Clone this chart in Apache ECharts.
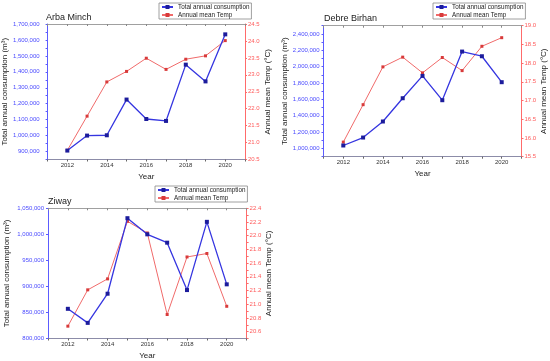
<!DOCTYPE html>
<html><head><meta charset="utf-8">
<script src="https://cdn.jsdelivr.net/npm/echarts@6/dist/echarts.min.js"></script>
<style>html,body{margin:0;padding:0;background:#fff}#c{width:550px;height:361px}</style>
</head><body><div id="c"></div>
<script>
const years = [2012, 2013, 2014, 2015, 2016, 2017, 2018, 2019, 2020];
const titles = ['Arba Minch', 'Debre Birhan', 'Ziway'];
const arbaConsumption = [906000, 1000000, 1002000, 1226000, 1104000, 1092000, 1445000, 1340000, 1635000];
const arbaTemp = [20.77, 21.78, 22.79, 23.10, 23.49, 23.16, 23.46, 23.56, 24.01];
const debreConsumption = [1037000, 1134000, 1330000, 1614000, 1887000, 1590000, 2184000, 2127000, 1810000];
const debreTemp = [15.89, 16.89, 17.90, 18.16, 17.74, 18.15, 17.80, 18.45, 18.68];
const ziwayConsumption = [857000, 830000, 886000, 1031000, 1000000, 984000, 893000, 1024000, 904000];
const ziwayTemp = [20.68, 21.21, 21.37, 22.21, 22.04, 20.85, 21.69, 21.74, 20.97];
const seriesNames = ['Total annual consumption', 'Annual mean Temp'];
const xAxisName = 'Year';
const leftName = 'Total annual consumption (m\u00B3)';
const rightName = 'Annual mean Temp (\u00B0C)';

const FONT = 'Liberation Sans, Arial, sans-serif';
const BLUE_LINE = '#3535e0', BLUE_MARK = '#1c1c9c', BLUE_AX = '#5c5cff';
const RED_LINE = '#f06a6a', RED_MARK = '#d83a3a', RED_AX = '#ff6b6b';

const grids = [
  {left: 46, top: 24, width: 199, height: 135.5},
  {left: 323.5, top: 25.7, width: 198, height: 131},
  {left: 48, top: 208.3, width: 198.6, height: 130.2}
];
const leftAx = [
  {min: 850000, max: 1700000, interval: 50000, step: 100000, margin: 8, gap: 33},
  {min: 900000, max: 2500000, interval: 100000, step: 200000, margin: 4, gap: 33},
  {min: 800000, max: 1050000, interval: 50000, step: 50000, margin: 4, gap: 37}
];
const rightAx = [
  {min: 20.5, max: 24.5, interval: 0.5, step: 1, gap: 17},
  {min: 15.5, max: 19.0, interval: 0.5, step: 1, gap: 18},
  {min: 20.5, max: 22.4, interval: 0.1, step: 2, gap: 16}
];
const legendPos = [{left: 159, top: 3}, {left: 433, top: 3}, {left: 155, top: 186}];
const titlePos = [{left: 46, top: 13}, {left: 324, top: 14.5}, {left: 48, top: 197}];
const cons = [arbaConsumption, debreConsumption, ziwayConsumption];
const temps = [arbaTemp, debreTemp, ziwayTemp];

const fmtThousands = v => Math.round(v).toString().replace(/\B(?=(\d{3})+(?!\d))/g, ',');

const option = {animation: false, textStyle: {fontFamily: FONT}, title: [], legend: [], grid: [], xAxis: [], yAxis: [], series: []};
for (let i = 0; i < 3; i++) {
  option.grid.push(Object.assign({containLabel: false}, grids[i]));
  option.title.push({text: titles[i], left: titlePos[i].left, top: titlePos[i].top, padding: 0,
    textStyle: {fontSize: 9, fontWeight: 'normal', color: '#222', fontFamily: FONT}});
  option.legend.push({data: seriesNames, orient: 'vertical', left: legendPos[i].left, top: legendPos[i].top,
    itemWidth: 11, itemHeight: 5, itemGap: 2, padding: [1, 2, 1, 2], borderColor: '#888', borderWidth: 0.8,
    textStyle: {fontSize: 6.3, color: '#222', fontFamily: FONT}, selectedMode: false});
  option.xAxis.push({type: 'value', gridIndex: i, min: 2011, max: 2021, interval: 1,
    name: xAxisName, nameLocation: 'middle', nameGap: 13, nameTextStyle: {fontSize: 8, color: '#222'},
    axisLine: {lineStyle: {color: '#8c8ca8', width: 1}},
    axisTick: {show: true, length: 2, lineStyle: {color: '#666'}, interval: 0},
    axisLabel: {fontSize: 6, color: '#333', margin: 3,
      formatter: v => (Math.round(v) % 2 === 0 ? String(Math.round(v)) : '')},
    splitLine: {show: false}});
  option.xAxis.push({type: 'value', gridIndex: i, position: 'top', min: 2011, max: 2021, interval: 1,
    axisLine: {lineStyle: {color: '#a0a0a0', width: 1}},
    axisTick: {show: true, inside: true, length: 2, lineStyle: {color: '#888'}},
    axisLabel: {show: false}, splitLine: {show: false}});
  const L = leftAx[i], R = rightAx[i];
  option.yAxis.push({type: 'value', gridIndex: i, position: 'left', min: L.min, max: L.max, interval: L.interval,
    name: leftName, nameLocation: 'middle', nameRotate: 90, nameGap: L.gap,
    nameTextStyle: {fontSize: 8, color: '#222'},
    axisLine: {show: true, lineStyle: {color: BLUE_AX, width: 1}},
    axisTick: {show: true, length: 2, lineStyle: {color: BLUE_AX}},
    axisLabel: {fontSize: 6, color: '#4a4aff', margin: L.margin,
      formatter: v => {
        const r = Math.round(v);
        if (r === L.min && L.min % L.step !== 0) return '';
        if (i === 1 && r === L.max) return '';
        return (r % L.step === 0) ? fmtThousands(r) : '';
      }},
    splitLine: {show: false}});
  option.yAxis.push({type: 'value', gridIndex: i, position: 'right', min: R.min, max: R.max, interval: R.interval,
    name: rightName, nameLocation: 'middle', nameRotate: 90, nameGap: R.gap,
    nameTextStyle: {fontSize: 8, color: '#222', verticalAlign: 'bottom'},
    axisLine: {show: true, lineStyle: {color: RED_AX, width: 1}},
    axisTick: {show: true, length: 2, lineStyle: {color: RED_AX}},
    axisLabel: {fontSize: 6, color: '#ff5a5a', margin: 3,
      formatter: v => {
        const k = Math.round(v * 10);
        if (R.step === 2) return (k % 2 === 0) ? (k / 10).toFixed(1) : '';
        return (k % 5 === 0) ? (k / 10).toFixed(1) : '';
      }},
    splitLine: {show: false}});
  option.series.push({name: seriesNames[0], type: 'line', xAxisIndex: 2 * i, yAxisIndex: 2 * i,
    data: years.map((y, j) => [y, cons[i][j]]),
    symbol: 'rect', symbolSize: 4, z: 3,
    lineStyle: {color: BLUE_LINE, width: 1.3}, itemStyle: {color: BLUE_MARK}});
  option.series.push({name: seriesNames[1], type: 'line', xAxisIndex: 2 * i, yAxisIndex: 2 * i + 1,
    data: years.map((y, j) => [y, temps[i][j]]),
    symbol: 'rect', symbolSize: 3, z: 2,
    lineStyle: {color: RED_LINE, width: 1}, itemStyle: {color: RED_MARK}});
}
const chart = echarts.init(document.getElementById('c'), null, {renderer: 'canvas'});
chart.setOption(option);
</script>
</body></html>
